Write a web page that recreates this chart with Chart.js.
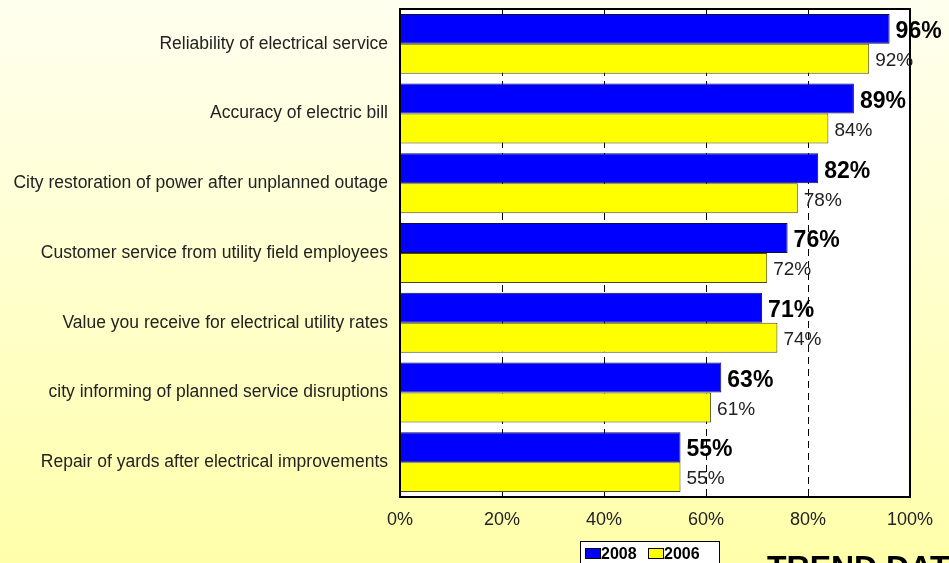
<!DOCTYPE html>
<html>
<head>
<meta charset="utf-8">
<script src="https://cdn.jsdelivr.net/npm/chart.js@4"></script>
<style>
  html, body { margin: 0; padding: 0; background: #ffffd0; }
  #wrap { width: 949px; height: 563px; position: relative; }
</style>
</head>
<body>
<div id="wrap"><canvas id="trendChart" width="949" height="563"></canvas></div>
<script>
  const categories = [
    "Reliability of electrical service",
    "Accuracy of electric bill",
    "City restoration of power after unplanned outage",
    "Customer service from utility field employees",
    "Value you receive for electrical utility rates",
    "city informing of planned service disruptions",
    "Repair of yards after electrical improvements",
  ];
  const seriesNames = ["2008", "2006"];
  const values2008 = [96, 89, 82, 76, 71, 63, 55];
  const values2006 = [92, 84, 78, 72, 74, 61, 55];
  const xTicks = [0, 20, 40, 60, 80, 100];
  const FONT = "'Liberation Sans', Arial, sans-serif";

  // page background + white plot area
  const backgroundPlugin = {
    id: "bg",
    beforeDraw(chart) {
      const { ctx, chartArea: a, width, height } = chart;
      ctx.save();
      const g = ctx.createLinearGradient(0, 0, 0, height);
      g.addColorStop(0, "#fffff0");
      g.addColorStop(1, "#ffffaa");
      ctx.fillStyle = g;
      ctx.fillRect(0, 0, width, height);
      ctx.fillStyle = "#ffffff";
      ctx.fillRect(a.left, a.top, a.right - a.left, a.bottom - a.top);
      ctx.restore();
    },
  };

  // frame, value labels, legend box and footer text
  const labelPlugin = {
    id: "labels",
    afterDatasetsDraw(chart) {
      const { ctx, chartArea: a } = chart;
      ctx.save();
      ctx.strokeStyle = "#000";
      ctx.lineWidth = 2;
      ctx.strokeRect(a.left, a.top, a.right - a.left, a.bottom - a.top);

      ctx.textBaseline = "middle";
      ctx.textAlign = "left";
      chart.data.datasets.forEach((ds, i) => {
        const meta = chart.getDatasetMeta(i);
        ctx.font = i === 0 ? "bold 23px " + FONT : "19px " + FONT;
        ctx.fillStyle = i === 0 ? "#000" : "#222";
        meta.data.forEach((bar, j) => {
          ctx.fillText(ds.data[j] + "%", bar.x + 6, bar.y + (i === 0 ? 3 : 2));
        });
      });

      // legend
      const lx = 580, ly = 541;
      ctx.fillStyle = "#fff";
      ctx.fillRect(lx, ly, 139, 30);
      ctx.strokeStyle = "#000";
      ctx.lineWidth = 1;
      ctx.strokeRect(lx + 0.5, ly + 0.5, 139, 30);
      ctx.font = "bold 16px " + FONT;
      ctx.textBaseline = "alphabetic";
      const offs = [5, 68];
      chart.data.datasets.forEach((ds, i) => {
        const x = lx + offs[i];
        ctx.fillStyle = ds.backgroundColor;
        ctx.fillRect(x, ly + 7, 15, 10);
        ctx.strokeStyle = "#000";
        ctx.strokeRect(x + 0.5, ly + 7.5, 15, 10);
        ctx.fillStyle = "#000";
        ctx.fillText(ds.label, x + 16, ly + 18);
      });

      ctx.font = "bold 32px " + FONT;
      ctx.fillStyle = "#000";
      ctx.fillText("TREND DATA", 767, 578);
      ctx.restore();
    },
  };

  const ctx = document.getElementById("trendChart").getContext("2d");
  const myChart = new Chart(ctx, {
    type: "bar",
    data: {
      labels: categories,
      datasets: [
        {
          label: seriesNames[0],
          data: values2008,
          backgroundColor: "#0000ff",
          borderColor: "#10103a",
          borderWidth: 1,
        },
        {
          label: seriesNames[1],
          data: values2006,
          backgroundColor: "#ffff00",
          borderColor: "#4a4a20",
          borderWidth: 1,
        },
      ],
    },
    options: {
      indexAxis: "y",
      responsive: false,
      animation: false,
      categoryPercentage: 0.86,
      barPercentage: 1,
      layout: { padding: { top: 9, right: 39, bottom: 36, left: 0 } },
      plugins: {
        legend: { display: false },
        tooltip: { enabled: false },
      },
      scales: {
        x: {
          min: 0,
          max: 100,
          afterFit(scale) {
            scale.height = 30;
            scale.paddingLeft = 0;
            scale.paddingRight = 0;
          },
          afterBuildTicks(scale) { scale.ticks = xTicks.map((v) => ({ value: v })); },
          ticks: {
            padding: 12,
            color: "#222",
            font: { family: FONT, size: 18 },
            callback: (v) => v + "%",
          },
          grid: { color: "#000", lineWidth: 1, drawTicks: false },
          border: { display: false, dash: [7, 5] },
        },
        y: {
          afterFit(scale) {
            scale.width = 400;
            scale.paddingTop = 0;
            scale.paddingBottom = 0;
          },
          ticks: {
            padding: 12,
            color: "#222",
            font: { family: FONT, size: 17.5 },
          },
          grid: { display: false, drawTicks: false },
          border: { display: false },
        },
      },
    },
    plugins: [backgroundPlugin, labelPlugin],
  });
</script>
</body>
</html>
